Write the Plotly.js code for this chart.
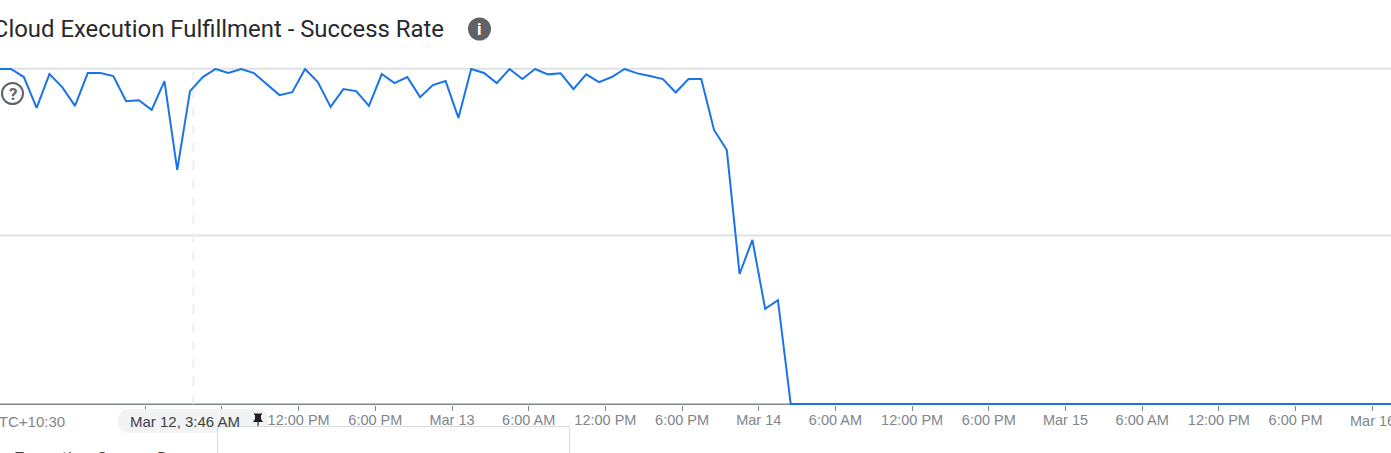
<!DOCTYPE html>
<html>
<head>
<meta charset="utf-8">
<script src="https://cdn.plot.ly/plotly-3.0.1.min.js"></script>
<style>html,body{margin:0;padding:0;background:#fff;overflow:hidden}#chart{width:1391px;height:453px}</style>
</head>
<body>
<div id="chart"></div>
<script>
const chartTitle = "Cloud Execution Fulfillment - Success Rate";
const firstSample = "2023-03-11 12:30";
const sampleStepMs = 3600000;
const successRate = [
  100,100,97.6,88.4,98.5,94.6,89.0,98.8,98.8,97.9,90.4,90.7,87.8,96.4,69.9,93.4,
  97.6,100,98.8,100,98.8,95.5,92.2,93.1,100,96.1,88.7,94.0,93.4,89.0,98.5,95.8,
  97.6,91.6,95.2,96.4,85.4,100,98.8,95.8,100,97.0,100,98.4,98.7,94.0,98.4,96.1,
  97.6,100,98.7,97.9,97.0,93.0,97.0,97.0,81.8,75.8,38.8,49.0,28.4,31.0,
  0,0,0,0,0,0,0,0,0,0,0,0,0,0,0,0,0,0,0,0,0,0,0,0,
  0,0,0,0,0,0,0,0,0,0,0,0,0,0,0,0,0,0,0,0,0,0,0,0,0,0
];
const tickDates = [
  "2023-03-12 00:00","2023-03-12 06:00","2023-03-12 12:00","2023-03-12 18:00",
  "2023-03-13 00:00","2023-03-13 06:00","2023-03-13 12:00","2023-03-13 18:00",
  "2023-03-14 00:00","2023-03-14 06:00","2023-03-14 12:00","2023-03-14 18:00",
  "2023-03-15 00:00","2023-03-15 06:00","2023-03-15 12:00","2023-03-15 18:00",
  "2023-03-16 00:00"
];
const tickLabels = [
  "","","12:00 PM","6:00 PM",
  "Mar 13","6:00 AM","12:00 PM","6:00 PM",
  "Mar 14","6:00 AM","12:00 PM","6:00 PM",
  "Mar 15","6:00 AM","12:00 PM","6:00 PM",
  ""
];
const lastTickDate = "2023-03-16 00:00";
const lastTickLabel = "Mar 16";
const pinnedTime = "2023-03-12 03:46";
const pinnedLabel = "Mar 12, 3:46 AM";
const timezoneLabel = "UTC+10:30";
const belowLabel = "Execution Source D";

const W = 1391, H = 453, T = 68, B = 405;
const px = x => x / W;
const py = y => (B - y) / (B - T);
const sans = "Liberation Sans, Arial, sans-serif";
const robo = "Roboto, sans-serif";
const axisGrey = "#80868b";
const gridGrey = "#e0e1e3";

const layout = {
  width: W, height: H,
  margin: {l: 0, r: 0, t: T, b: H - B, pad: 0},
  paper_bgcolor: "#fff", plot_bgcolor: "#fff",
  showlegend: false,
  title: {
    text: chartTitle, xref: "container", yref: "container",
    x: px(444), xanchor: "right", y: 1 - 29 / H, yanchor: "middle",
    font: {family: robo, size: 23.9, color: "#28292c"}
  },
  xaxis: {
    type: "date",
    range: ["2023-03-11 12:38", "2023-03-16 01:28"],
    tickmode: "array", tickvals: tickDates, ticktext: tickLabels,
    ticks: "outside", ticklen: 5, tickwidth: 1, tickcolor: axisGrey,
    tickfont: {family: sans, size: 14.5, color: axisGrey},
    ticklabelstandoff: -3,
    showgrid: false, zeroline: false, showline: false,
    fixedrange: true
  },
  yaxis: {
    range: [-0.3, 100.3], showticklabels: false, ticks: "",
    showgrid: false, zeroline: false, showline: false, fixedrange: true
  },
  shapes: [
    {type: "line", layer: "below", xref: "paper", yref: "paper", x0: 0, x1: 1, y0: py(68.8), y1: py(68.8),
     line: {color: gridGrey, width: 2}},
    {type: "line", layer: "below", xref: "paper", yref: "paper", x0: 0, x1: 1, y0: py(235.5), y1: py(235.5),
     line: {color: gridGrey, width: 2}},
    {type: "line", layer: "below", xref: "paper", yref: "paper", x0: 0, x1: 1, y0: py(404.2), y1: py(404.2),
     line: {color: axisGrey, width: 1.5}},
    {type: "line", layer: "below", xref: "x", yref: "paper", x0: pinnedTime, x1: pinnedTime, y0: py(404), y1: py(69),
     line: {color: "#eeeeee", width: 2, dash: "dash"}},
    {type: "path", layer: "above", xref: "paper", yref: "paper",
     path: `M ${px(130)} ${py(409)} L ${px(256)} ${py(409)} Q ${px(268)} ${py(409)} ${px(268)} ${py(421)} Q ${px(268)} ${py(433)} ${px(256)} ${py(433)} L ${px(130)} ${py(433)} Q ${px(118)} ${py(433)} ${px(118)} ${py(421)} Q ${px(118)} ${py(409)} ${px(130)} ${py(409)} Z`,
     fillcolor: "#f1f3f4", line: {width: 0}},
    {type: "path", layer: "above", xref: "paper", yref: "paper",
     path: `M ${px(254)} ${py(413.5)} L ${px(262)} ${py(413.5)} L ${px(262)} ${py(415)} L ${px(261)} ${py(415)} L ${px(261)} ${py(419)} L ${px(263)} ${py(422)} L ${px(258.6)} ${py(422)} L ${px(258.4)} ${py(430)} L ${px(257.6)} ${py(430)} L ${px(257.4)} ${py(422)} L ${px(253)} ${py(422)} L ${px(255)} ${py(419)} L ${px(255)} ${py(415)} L ${px(254)} ${py(415)} Z`,
     fillcolor: "#202124", line: {width: 0}},
    {type: "rect", layer: "above", xref: "paper", yref: "paper",
     x0: px(217.5), x1: px(569.5), y0: py(460), y1: py(426.5),
     fillcolor: "#fff", line: {color: "#dadce0", width: 1}},
    {type: "circle", layer: "above", xref: "paper", yref: "paper",
     x0: px(468), x1: px(491), y0: py(40.5), y1: py(17.5),
     fillcolor: "#5f6368", line: {width: 0}},
    {type: "circle", layer: "above", xref: "paper", yref: "paper",
     x0: px(2), x1: px(23), y0: py(104), y1: py(83),
     fillcolor: "#fff", line: {color: "#5f6368", width: 2}}
  ],
  annotations: [
    {text: pinnedLabel, xref: "paper", yref: "paper", x: px(185), y: py(421), xanchor: "center", yanchor: "middle",
     showarrow: false, font: {family: sans, size: 15, color: "#3c4043"}},
    {text: timezoneLabel, xref: "paper", yref: "paper", x: px(67), y: py(421), xanchor: "right", yanchor: "middle",
     showarrow: false, font: {family: sans, size: 15, color: axisGrey}},
    {text: lastTickLabel, xref: "x", yref: "paper", x: lastTickDate, y: py(421), xanchor: "center", yanchor: "middle",
     showarrow: false, font: {family: sans, size: 14.5, color: axisGrey}},
    {text: "<b>i</b>", xref: "paper", yref: "paper", x: px(479.5), y: py(29), xanchor: "center", yanchor: "middle",
     showarrow: false, font: {family: robo, size: 17, color: "#ffffff"}},
    {text: "<b>?</b>", xref: "paper", yref: "paper", x: px(12.5), y: py(93.5), xanchor: "center", yanchor: "middle",
     showarrow: false, font: {family: robo, size: 17, color: "#5f6368"}},
    {text: belowLabel, xref: "paper", yref: "paper", x: px(12), y: py(458), xanchor: "left", yanchor: "middle",
     showarrow: false, font: {family: robo, size: 18, color: "#3c4043"}}
  ]
};

const traces = [{
  type: "scatter", mode: "lines",
  x0: firstSample, dx: sampleStepMs,
  y: successRate,
  line: {color: "#1a73e8", width: 2, shape: "linear"},
  hoverinfo: "skip"
}];

Plotly.newPlot("chart", traces, layout, {displayModeBar: false, staticPlot: true});
</script>
</body>
</html>
